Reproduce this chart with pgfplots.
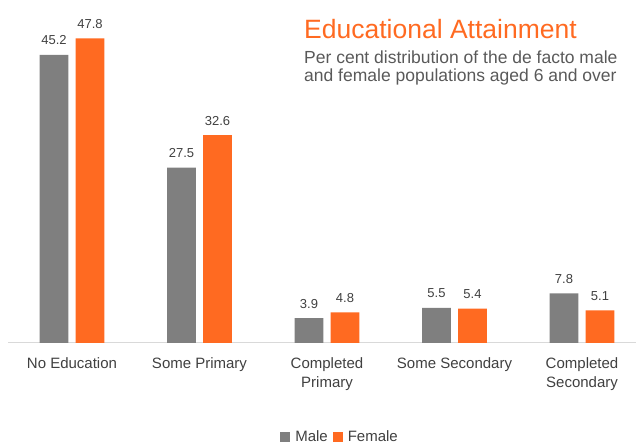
\documentclass[border=0pt]{standalone}
\usepackage{pgfplots}
\pgfplotsset{compat=1.18}
\usepackage{fontspec}
\setmainfont{Liberation Sans}
\definecolor{male}{HTML}{7F7F7F}
\definecolor{female}{HTML}{FF6A21}
\definecolor{txt}{HTML}{404040}
\definecolor{sub}{HTML}{595959}
\definecolor{axl}{HTML}{D9D9D9}
\begin{document}
\begin{tikzpicture}[x=1bp,y=1bp]
\path[use as bounding box] (0,0) rectangle (636,444);
\begin{axis}[
  at={(72bp,101bp)}, anchor=origin,
  scale only axis, width=627.75bp, height=318.7bp,
  xmin=-0.5, xmax=4.4235, ymin=0, ymax=50,
  axis x line*=bottom, axis y line=none,
  x axis line style={draw=axl, line width=1bp},
  xtick=data, ytick=\empty, major tick length=0pt,
  xticklabels={No Education, Some Primary, {Completed\\Primary}, Some Secondary, {Completed\\Secondary}},
  xticklabel style={align=center, font=\fontsize{15bp}{19bp}\selectfont, text=txt, anchor=north, yshift=-11bp},
  ybar, bar width=28.8bp,
  clip=false,
  nodes near coords,
  nodes near coords style={font=\fontsize{13bp}{15bp}\selectfont, text=txt, anchor=base, yshift=10bp},
  point meta=explicit symbolic,
  legend columns=2,
  legend style={at={(0.5285,-0.295)}, anchor=center, draw=none, fill=none,
    font=\fontsize{15bp}{17bp}\selectfont, text=txt, column sep=3bp, inner sep=0pt},
  legend image code/.code={\fill[#1] (0bp,-5bp) rectangle (10bp,5bp);},
]
\addplot[fill=male, draw=none, bar shift=-18bp] coordinates {(0,45.2)[45.2] (1,27.5)[27.5] (2,3.9)[3.9] (3,5.5)[5.5] (4,7.8)[7.8]};
\addplot[fill=female, draw=none, bar shift=18bp] coordinates {(0,47.8)[47.8] (1,32.6)[32.6] (2,4.8)[4.8] (3,5.4)[5.4] (4,5.1)[5.1]};
\legend{Male, Female}
\end{axis}
\node[anchor=base west, inner sep=0, text=female, font=\fontsize{26.5bp}{30bp}\selectfont] at (304,405) {Educational Attainment};
\node[anchor=base west, inner sep=0, text=sub, font=\fontsize{17.5bp}{22bp}\selectfont] at (304,380) {Per cent distribution of the de facto male};
\node[anchor=base west, inner sep=0, text=sub, font=\fontsize{17.5bp}{22bp}\selectfont] at (304,362) {and female populations aged 6 and over};
\end{tikzpicture}
\end{document}
